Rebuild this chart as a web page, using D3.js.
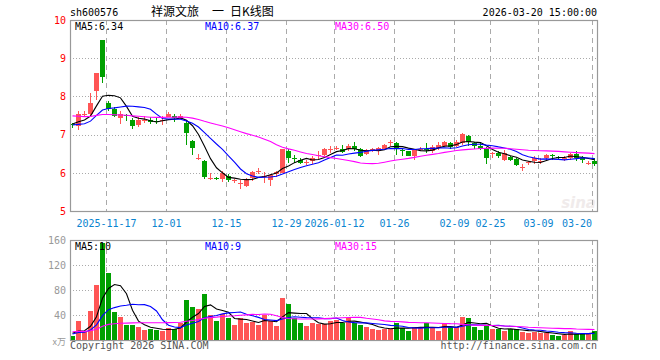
<!DOCTYPE html>
<html>
<head>
<meta charset="utf-8">
<script src="https://cdn.jsdelivr.net/npm/d3@7"></script>
<style>
  body { margin: 0; background: #fff; }
  svg { display: block; font-family: "DejaVu Sans Mono", monospace; }
</style>
</head>
<body>
<div id="chart"></div>
<script>
// trading days shown on the chart
const dates = [
  '2025-11-07','2025-11-10','2025-11-11','2025-11-12','2025-11-13','2025-11-14','2025-11-17','2025-11-18',
  '2025-11-19','2025-11-20','2025-11-21','2025-11-24','2025-11-25','2025-11-26','2025-11-27','2025-11-28',
  '2025-12-01','2025-12-02','2025-12-03','2025-12-04','2025-12-05','2025-12-08','2025-12-09','2025-12-10',
  '2025-12-11','2025-12-12','2025-12-15','2025-12-16','2025-12-17','2025-12-18','2025-12-19','2025-12-22',
  '2025-12-23','2025-12-24','2025-12-25','2025-12-26','2025-12-29','2025-12-30','2025-12-31',
  '2026-01-05','2026-01-06','2026-01-07','2026-01-08','2026-01-09','2026-01-12','2026-01-13','2026-01-14',
  '2026-01-15','2026-01-16','2026-01-19','2026-01-20','2026-01-21','2026-01-22','2026-01-23','2026-01-26',
  '2026-01-27','2026-01-28','2026-01-29','2026-01-30',
  '2026-02-02','2026-02-03','2026-02-04','2026-02-05','2026-02-06','2026-02-09','2026-02-10','2026-02-11',
  '2026-02-12','2026-02-13','2026-02-24','2026-02-25','2026-02-26','2026-02-27',
  '2026-03-02','2026-03-03','2026-03-04','2026-03-05','2026-03-06','2026-03-09','2026-03-10','2026-03-11',
  '2026-03-12','2026-03-13','2026-03-16','2026-03-17','2026-03-18','2026-03-19','2026-03-20'
];

const opens = [
  7.27,7.22,7.51,7.53,8.14,9.47,7.82,7.68,7.44,7.51,7.39,7.26,7.35,7.37,7.35,7.35,
  7.47,7.49,7.44,7.31,6.84,6.37,6.32,5.85,5.86,5.83,5.92,5.78,5.70,5.66,5.86,6.04,
  5.90,5.82,5.97,6.00,6.56,6.38,6.34,6.26,6.30,6.45,6.47,6.61,6.64,6.62,6.62,6.71,
  6.62,6.50,6.60,6.56,6.61,6.79,6.78,6.60,6.56,6.45,6.61,6.63,6.56,6.65,6.71,6.78,
  6.71,6.78,6.97,6.78,6.69,6.65,6.49,6.53,6.34,6.41,6.36,6.14,6.26,6.30,6.30,6.39,
  6.47,6.41,6.38,6.39,6.49,6.40,6.24,6.30
];
const highs = [
  7.31,7.61,7.62,8.10,8.62,9.47,7.88,7.71,7.61,7.55,7.44,7.45,7.50,7.47,7.44,7.50,
  7.58,7.53,7.55,7.37,6.86,6.50,6.34,5.99,5.90,6.04,5.97,5.83,5.82,5.86,6.05,6.12,
  6.02,5.97,6.05,6.62,6.62,6.47,6.39,6.34,6.43,6.56,6.65,6.69,6.71,6.74,6.76,6.81,
  6.65,6.62,6.65,6.68,6.76,6.86,6.80,6.65,6.57,6.60,6.67,6.78,6.72,6.81,6.84,6.81,
  6.85,7.05,7.00,6.80,6.78,6.68,6.54,6.56,6.59,6.45,6.39,6.24,6.32,6.43,6.38,6.49,
  6.48,6.43,6.43,6.52,6.58,6.43,6.30,6.40
];
const lows = [
  7.17,7.13,7.45,7.45,7.90,8.36,7.61,7.45,7.28,7.35,7.14,7.20,7.31,7.27,7.27,7.24,
  7.45,7.33,7.40,6.74,6.47,6.34,5.84,5.80,5.80,5.75,5.75,5.73,5.57,5.62,5.78,5.98,
  5.72,5.66,5.90,5.99,6.25,6.25,6.24,6.21,6.24,6.36,6.43,6.53,6.59,6.52,6.56,6.56,
  6.41,6.47,6.54,6.47,6.59,6.69,6.47,6.43,6.44,6.33,6.56,6.52,6.53,6.60,6.68,6.61,
  6.68,6.74,6.70,6.62,6.60,6.24,6.39,6.39,6.32,6.30,6.18,6.06,6.21,6.24,6.24,6.34,
  6.34,6.34,6.32,6.34,6.30,6.25,6.21,6.18
];
const closes = [
  7.24,7.55,7.54,7.82,8.61,8.51,7.66,7.48,7.55,7.49,7.22,7.39,7.38,7.34,7.33,7.37,
  7.54,7.44,7.50,7.03,6.65,6.40,5.90,5.87,5.84,5.99,5.80,5.80,5.72,5.80,6.02,6.06,
  5.92,5.95,6.02,6.61,6.39,6.36,6.25,6.28,6.39,6.47,6.62,6.63,6.66,6.54,6.71,6.61,
  6.43,6.59,6.61,6.65,6.74,6.81,6.65,6.58,6.45,6.59,6.63,6.62,6.68,6.74,6.80,6.68,
  6.80,7.02,6.80,6.71,6.62,6.39,6.53,6.43,6.53,6.34,6.21,6.16,6.28,6.39,6.31,6.47,
  6.43,6.40,6.40,6.49,6.39,6.34,6.26,6.22
];
// volume, 万手
const volumes = [
  7,31,13,47,88,156,108,45,37,24,24,21,16,17.6,16,15,
  20,18,27,64,53,50,74,40,31,41,36,24,35,28,29,24,
  40,31,22,68,58,36,28,22,27,25,25,31,32,26.7,34.7,26.7,
  24,21.3,17.6,16,17.6,17.1,26.7,18.7,14.9,20.3,20.3,26.7,18.7,14.4,26.7,21.3,
  20.3,37.3,35.7,21.3,16,22.4,17.1,17.1,14.9,17.6,17.6,13.3,11.7,13.3,11.7,10.7,
  8,6.4,8,14.9,9.6,9.6,9.1,14.9
];
// sessions before the first visible day, only feeding the moving averages
const priorCloses = [
  7.80,7.85,7.75,7.70,7.78,7.72,7.65,7.70,7.74,7.68,7.76,7.72,7.70,
  7.45,7.40,7.38,7.42,7.35,7.30,7.32,7.39,7.36,7.15,7.10,7.12,7.25,7.32,7.30,7.28
];
const priorVolumes = [
  16,14,15,17,13,15,16,14,15,16,14,15,17,15,14,16,15,14,15,16,
  8,9,8.5,8,9,12,11,12,11.5
];

const tickDates = ['2025-11-17','2025-12-01','2025-12-15','2025-12-29','2026-01-12','2026-01-26','2026-02-09','2026-02-25','2026-03-09','2026-03-20'];
const tickLabels = ['2025-11-17','12-01','12-15','12-29','2026-01-12','01-26','02-09','02-25','03-09','03-20'];
const priceTicks = [5, 6, 7, 8, 9, 10];
const volTicks = [40, 80, 120, 160];
const maPeriods = [5, 10, 30];
const maColors = ['#000000', '#0000ff', '#ff00ff'];
const priceLegend = ['MA5:6.34', 'MA10:6.37', 'MA30:6.50'];
const volLegend = ['MA5:10', 'MA10:9', 'MA30:15'];

const upColor = '#ff5555';
const downColor = '#00a000';
const gridColor = '#aaaaaa';

const W = 660, H = 360;
const left = 70, right = 597;
const main = { top: 20, bottom: 211 };
const vol = { top: 240, bottom: 340 };

const svg = d3.select('#chart').append('svg')
  .attr('width', W)
  .attr('height', H);

const idx = d3.range(dates.length);
const x = d3.scaleBand().domain(idx).range([69.5, 597.5]).paddingInner(1 / 6).paddingOuter(1 / 12);
const cx = i => x(i) + x.bandwidth() / 2;
const y = d3.scaleLinear().domain([5, 10]).range([main.bottom, main.top]);
const yv = d3.scaleLinear().domain([0, 160]).range([vol.bottom, vol.top]);

function movingAvg(vals, prior, n) {
  const all = prior.concat(vals);
  return vals.map((v, i) => d3.mean(all.slice(i + prior.length - n + 1, i + prior.length + 1)));
}

const isUp = i => closes[i] >= opens[i];
const tickIdx = tickDates.map(d => dates.indexOf(d));

// header
svg.append('text').attr('x', 70).attr('y', 16).style('font-size', '10px').text('sh600576');
const title = svg.append('text').attr('y', 16)
  .style('font-family', '"Noto Sans CJK SC", sans-serif').style('font-size', '12px');
title.append('tspan').attr('x', 151).text('祥源文旅');
title.append('tspan').attr('x', 212).text('一');
title.append('tspan').attr('x', 230).text('日K线图');
svg.append('text').attr('x', 597).attr('y', 16).attr('text-anchor', 'end')
  .style('font-size', '10px').text('2026-03-20 15:00:00');

// faint watermark
svg.append('text').attr('x', 596).attr('y', 208).attr('text-anchor', 'end')
  .style('font-family', '"DejaVu Sans", sans-serif').style('font-size', '15px')
  .style('font-style', 'italic').style('font-weight', 'bold')
  .style('fill', '#f0ebeb').text('sina');

function drawPanel(top, bottom, yScale, hTicks) {
  const g = svg.append('g');
  // dotted horizontal grid
  g.selectAll('line.h').data(hTicks).join('line')
    .attr('x1', left).attr('x2', right)
    .attr('y1', d => Math.round(yScale(d)) + 0.5)
    .attr('y2', d => Math.round(yScale(d)) + 0.5)
    .attr('stroke', gridColor).attr('stroke-dasharray', '1,2');
  // dashed vertical grid
  g.selectAll('line.v').data(tickIdx).join('line')
    .attr('x1', d => x(d) + 0.5).attr('x2', d => x(d) + 0.5)
    .attr('y1', top).attr('y2', bottom)
    .attr('stroke', gridColor).attr('stroke-dasharray', '5,4');
  g.append('rect')
    .attr('x', left + 0.5).attr('y', top + 0.5)
    .attr('width', right - left).attr('height', bottom - top)
    .attr('fill', 'none').attr('stroke', '#999').attr('stroke-width', 1.2);
  return g;
}

drawPanel(main.top, main.bottom, y, [6, 7, 8, 9]);
drawPanel(vol.top, vol.bottom, yv, [40, 80, 120]);

// price axis
const yAxis = svg.append('g').attr('transform', `translate(${left},0)`)
  .call(d3.axisLeft(y).tickValues(priceTicks).tickFormat(d3.format('d')).tickSize(0).tickPadding(4));
yAxis.select('.domain').remove();
yAxis.selectAll('text').style('fill', '#ff0000').style('font-size', '10px')
  .style('font-family', '"DejaVu Sans Mono", monospace');

// volume axis
const vAxis = svg.append('g').attr('transform', `translate(${left},0)`)
  .call(d3.axisLeft(yv).tickValues(volTicks).tickFormat(d3.format('d')).tickSize(0).tickPadding(4));
vAxis.select('.domain').remove();
vAxis.selectAll('text').style('fill', '#999').style('font-size', '10px')
  .style('font-family', '"DejaVu Sans Mono", monospace');
svg.append('text').attr('x', 66).attr('y', 345).attr('text-anchor', 'end')
  .style('fill', '#999').style('font-size', '9px')
  .style('font-family', '"Noto Sans CJK SC", sans-serif').text('x万');

// date labels
svg.append('g').selectAll('text').data(tickIdx).join('text')
  .attr('x', (d, i) => i === tickIdx.length - 1 ? x(d) : x(d) + 0.5)
  .attr('y', 227)
  .attr('text-anchor', (d, i) => i === tickIdx.length - 1 ? 'end' : 'middle')
  .style('fill', '#0a84d0').style('font-size', '10px')
  .text((d, i) => tickLabels[i]);

// clip paths
svg.append('clipPath').attr('id', 'clipMain').append('rect')
  .attr('x', left + 1).attr('y', main.top + 1).attr('width', right - left - 1).attr('height', main.bottom - main.top - 1);
svg.append('clipPath').attr('id', 'clipVol').append('rect')
  .attr('x', left + 1).attr('y', vol.top + 1).attr('width', right - left - 1).attr('height', vol.bottom - vol.top - 1);

// candles
const candles = svg.append('g').attr('clip-path', 'url(#clipMain)');
candles.selectAll('line').data(idx).join('line')
  .attr('x1', cx).attr('x2', cx)
  .attr('y1', i => Math.round(y(highs[i])))
  .attr('y2', i => Math.round(y(lows[i])))
  .attr('stroke', i => isUp(i) ? upColor : downColor);
candles.selectAll('rect').data(idx).join('rect')
  .attr('x', i => x(i))
  .attr('width', x.bandwidth())
  .attr('y', i => Math.round(y(Math.max(opens[i], closes[i]))))
  .attr('height', i => Math.max(1, Math.round(y(Math.min(opens[i], closes[i]))) - Math.round(y(Math.max(opens[i], closes[i])))))
  .attr('fill', i => isUp(i) ? upColor : downColor);

// volume bars
svg.append('g').attr('clip-path', 'url(#clipVol)')
  .selectAll('rect').data(idx).join('rect')
  .attr('x', i => x(i))
  .attr('width', x.bandwidth())
  .attr('y', i => Math.round(yv(volumes[i])))
  .attr('height', i => vol.bottom - Math.round(yv(volumes[i])))
  .attr('fill', i => isUp(i) ? upColor : downColor);

// moving average lines
maPeriods.forEach((n, k) => {
  const pm = movingAvg(closes, priorCloses, n);
  svg.append('path').attr('clip-path', 'url(#clipMain)')
    .datum(pm)
    .attr('d', d3.line().x((d, i) => cx(i)).y(d => y(d)))
    .attr('fill', 'none').attr('stroke', maColors[k]).attr('stroke-width', 1.1);
  const vm = movingAvg(volumes, priorVolumes, n);
  svg.append('path').attr('clip-path', 'url(#clipVol)')
    .datum(vm)
    .attr('d', d3.line().x((d, i) => cx(i)).y(d => yv(d)))
    .attr('fill', 'none').attr('stroke', maColors[k]).attr('stroke-width', 1.1);
});

// legends
const legendX = [75, 205, 335];
svg.append('g').selectAll('text').data(priceLegend).join('text')
  .attr('x', (d, i) => legendX[i]).attr('y', 30)
  .style('fill', (d, i) => maColors[i]).style('font-size', '10px')
  .text(d => d);
svg.append('g').selectAll('text').data(volLegend).join('text')
  .attr('x', (d, i) => legendX[i]).attr('y', 250)
  .style('fill', (d, i) => maColors[i]).style('font-size', '10px')
  .text(d => d);

// footer
svg.append('text').attr('x', 70).attr('y', 349).style('fill', '#555').style('font-size', '10px')
  .text('Copyright 2026 SINA.COM');
svg.append('text').attr('x', 597).attr('y', 349).attr('text-anchor', 'end')
  .style('fill', '#555').style('font-size', '10px')
  .text('http://finance.sina.com.cn');
</script>
</body>
</html>
